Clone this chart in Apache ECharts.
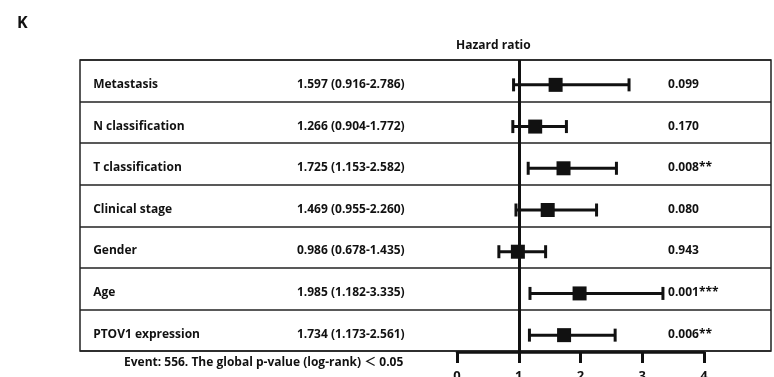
<!DOCTYPE html>
<html>
<head>
<meta charset="utf-8">
<script src="https://cdn.jsdelivr.net/npm/echarts@6/dist/echarts.min.js"></script>
<style>
  html, body { margin: 0; padding: 0; background: #fff; }
  #chart { width: 774px; height: 377px; }
</style>
</head>
<body>
<div id="chart"></div>
<script>
// Multivariate Cox regression results
const variables = ['Metastasis', 'N classification', 'T classification', 'Clinical stage', 'Gender', 'Age', 'PTOV1 expression'];
const hazardRatio = [1.597, 1.266, 1.725, 1.469, 0.986, 1.985, 1.734];
const ciLower = [0.916, 0.904, 1.153, 0.955, 0.678, 1.182, 1.173];
const ciUpper = [2.786, 1.772, 2.582, 2.260, 1.435, 3.335, 2.561];
const pValues = ['0.099', '0.170', '0.008**', '0.080', '0.943', '0.001***', '0.006**'];
const xTicks = [0, 1, 2, 3, 4];
const footnote = 'Event: 556. The global p-value (log-rank) \uFF1C 0.05';

const FONT = '"Open Sans", "Liberation Sans", "Noto Sans CJK SC", sans-serif';
const INK = '#111';
// column anchors inside the table, as fractions of its width
const COL_NAME = 0.019, COL_HR = 0.314, COL_P = 0.851;
const TEXT_SHIFT = 4; // rows' content sits slightly below the row centre

const hrText = hazardRatio.map((v, i) =>
  v.toFixed(3) + ' (' + ciLower[i].toFixed(3) + '-' + ciUpper[i].toFixed(3) + ')');

const chart = echarts.init(document.getElementById('chart'), null, { renderer: 'canvas' });

const textStyle = (x, y, text) => ({
  type: 'text',
  style: { x, y, text, fill: INK, font: 'bold 12px ' + FONT, textAlign: 'left', textVerticalAlign: 'middle' }
});

chart.setOption({
  animation: false,
  backgroundColor: '#fff',
  grid: [
    { left: 80, right: 3, top: 60, height: 291, show: true, borderColor: '#222', borderWidth: 1.5, backgroundColor: 'transparent', outerBoundsMode: 'none' },
    { left: 457, right: 70, top: 60, bottom: 25, outerBoundsMode: 'none' }
  ],
  xAxis: [
    { gridIndex: 0, type: 'value', min: 0, max: 1, show: false },
    {
      gridIndex: 1, type: 'value', min: xTicks[0], max: xTicks[xTicks.length - 1], interval: 1,
      axisLine: { show: true, onZero: false, lineStyle: { color: INK, width: 2.5 } },
      axisTick: { show: true, length: 11, lineStyle: { color: INK, width: 3 } },
      axisLabel: { color: INK, fontSize: 13, fontWeight: 'bold', fontFamily: FONT, margin: 18 },
      splitLine: { show: false }
    }
  ],
  yAxis: [
    {
      gridIndex: 0, type: 'category', data: variables, inverse: true,
      axisLine: { show: false }, axisTick: { show: false }, axisLabel: { show: false },
      splitLine: { show: true, interval: 0, lineStyle: { color: '#222', width: 1.5 } }
    },
    { gridIndex: 1, type: 'category', data: variables, inverse: true, show: false }
  ],
  title: [
    { text: 'K', left: 12, top: 10, textStyle: { fontSize: 16, fontWeight: 'bold', color: INK, fontFamily: FONT } },
    { text: 'Hazard ratio', left: 451, top: 35, textStyle: { fontSize: 12, fontWeight: 'bold', color: INK, fontFamily: FONT } }
  ],
  graphic: [
    { type: 'text', left: 124, top: 357, style: { text: footnote, fill: INK, font: 'bold 12px ' + FONT } }
  ],
  series: [
    {
      // table text: variable, HR (95% CI), p-value
      type: 'custom',
      xAxisIndex: 0, yAxisIndex: 0,
      data: variables.map((_, i) => [0, i]),
      encode: { x: 0, y: 1 },
      silent: true,
      renderItem(params, api) {
        const i = api.value(1);
        const y = api.coord([0, i])[1] + TEXT_SHIFT;
        return {
          type: 'group',
          children: [
            textStyle(api.coord([COL_NAME, i])[0], y, variables[i]),
            textStyle(api.coord([COL_HR, i])[0], y, hrText[i]),
            textStyle(api.coord([COL_P, i])[0], y, pValues[i])
          ]
        };
      }
    },
    {
      // hazard ratio squares with 95% CI whiskers
      type: 'custom',
      xAxisIndex: 1, yAxisIndex: 1,
      data: variables.map((_, i) => [i, hazardRatio[i], ciLower[i], ciUpper[i]]),
      encode: { x: [1, 2, 3], y: 0 },
      silent: true,
      renderItem(params, api) {
        const i = api.value(0);
        const p = api.coord([api.value(1), i]);
        const lo = api.coord([api.value(2), i]);
        const hi = api.coord([api.value(3), i]);
        const y = p[1] + TEXT_SHIFT;
        const cap = 6.5, half = 7;
        const ls = { stroke: INK, lineWidth: 3 };
        return {
          type: 'group',
          children: [
            { type: 'line', shape: { x1: lo[0], y1: y, x2: hi[0], y2: y }, style: ls },
            { type: 'line', shape: { x1: lo[0], y1: y - cap, x2: lo[0], y2: y + cap }, style: ls },
            { type: 'line', shape: { x1: hi[0], y1: y - cap, x2: hi[0], y2: y + cap }, style: ls },
            { type: 'rect', shape: { x: p[0] - half, y: y - half, width: half * 2, height: half * 2 }, style: { fill: INK } }
          ]
        };
      },
      markLine: {
        silent: true,
        symbol: 'none',
        label: { show: false },
        lineStyle: { color: INK, width: 3, type: 'solid' },
        data: [{ xAxis: 1 }]
      }
    }
  ]
});
</script>
</body>
</html>
